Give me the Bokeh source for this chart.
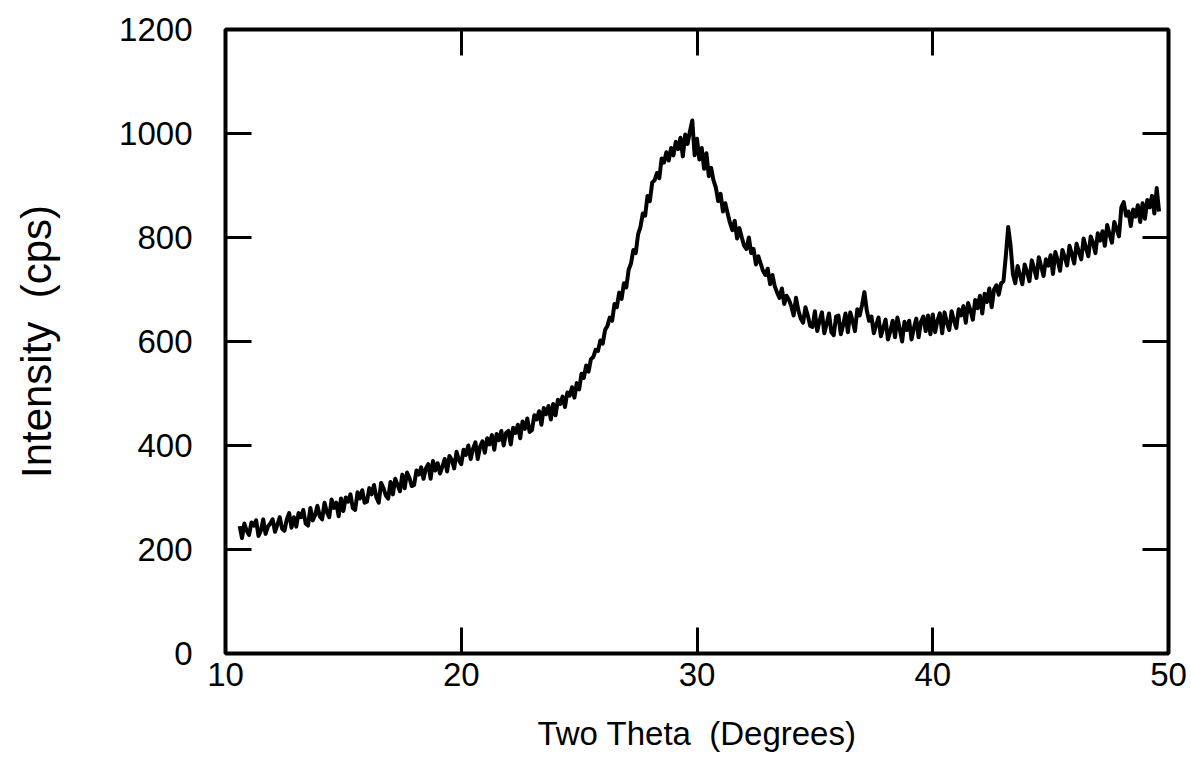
from bokeh.plotting import figure
from bokeh.models import Range1d, LinearAxis, FixedTicker
from bokeh.embed import file_html
from bokeh.resources import INLINE

# Two-theta positions (degrees), 0.1 step
two_theta_start = 10.6
two_theta_step = 0.1

# Intensity (cps), one row per degree
intensity = [
    245, 222, 250, 236,                                   # 10.6-10.9
    228, 252, 246, 256, 226, 236, 258, 230, 244, 250,     # 11
    258, 234, 248, 262, 240, 236, 258, 270, 242, 262,     # 12
    244, 270, 262, 276, 250, 246, 280, 256, 266, 284,     # 13
    264, 258, 290, 272, 262, 296, 280, 290, 264, 298,     # 14
    274, 300, 292, 306, 280, 276, 310, 298, 314, 290,     # 15
    292, 318, 306, 324, 300, 290, 328, 318, 304, 298,     # 16
    330, 306, 336, 324, 312, 344, 318, 348, 338, 322,     # 17
    324, 352, 344, 358, 336, 356, 364, 336, 370, 352,     # 18
    366, 346, 360, 374, 350, 380, 372, 356, 388, 372,     # 19
    364, 392, 382, 400, 374, 394, 406, 374, 398, 408,     # 20
    386, 414, 402, 420, 392, 422, 410, 428, 400, 424,     # 21
    428, 402, 434, 424, 440, 414, 446, 432, 452, 426,     # 22
    430, 458, 450, 466, 440, 472, 460, 476, 450, 480,     # 23
    458, 488, 480, 494, 474, 502, 496, 512, 492, 520,     # 24
    508, 538, 530, 554, 542, 566, 570, 584, 582, 602,     # 25
    596, 622, 630, 646, 640, 672, 666, 694, 682, 712,     # 26
    704, 738, 750, 776, 770, 806, 820, 846, 842, 880,     # 27
    870, 906, 910, 924, 914, 952, 944, 964, 948, 972,     # 28
    958, 984, 970, 992, 956, 998, 980, 1004, 1025, 958,   # 29
    990, 950, 972, 932, 962, 918, 934, 910, 896, 870,     # 30
    884, 850, 866, 846, 828, 814, 832, 798, 818, 800,     # 31
    784, 778, 800, 770, 778, 748, 764, 750, 736, 728,     # 32
    740, 710, 728, 706, 694, 684, 702, 672, 688, 680,     # 33
    668, 650, 684, 660, 644, 636, 666, 650, 630, 628,     # 34
    658, 620, 640, 656, 616, 634, 654, 618, 612, 648,     # 35
    650, 614, 632, 654, 618, 656, 640, 620, 662, 650,     # 36
    670, 695, 660, 640, 648, 616, 632, 646, 610, 626,     # 37
    642, 604, 620, 640, 608, 646, 624, 600, 638, 622,     # 38
    640, 604, 626, 644, 608, 638, 648, 620, 650, 614,     # 39
    652, 618, 640, 654, 616, 656, 636, 622, 658, 640,     # 40
    626, 662, 650, 668, 636, 674, 660, 642, 680, 664,     # 41
    688, 654, 692, 676, 702, 666, 700, 708, 690, 712,     # 42
    716, 765, 820, 785, 730, 712, 745, 728, 710, 748,     # 43
    734, 716, 756, 740, 722, 762, 744, 726, 758, 746,     # 44
    766, 730, 772, 756, 736, 776, 762, 746, 784, 768,     # 45
    750, 788, 772, 758, 798, 780, 764, 802, 790, 770,     # 46
    808, 794, 812, 784, 824, 806, 790, 830, 816, 802,     # 47
    858, 868, 842, 850, 822, 854, 840, 862, 830, 866,     # 48
    836, 872, 858, 880, 846, 895, 850,                    # 49
]
two_theta = [round(two_theta_start + i * two_theta_step, 2) for i in range(len(intensity))]

x_ticks = [10, 20, 30, 40, 50]
y_ticks = [0, 200, 400, 600, 800, 1000, 1200]
x_inner_ticks = [20, 30, 40]
y_inner_ticks = [200, 400, 600, 800, 1000]

FONT = "Liberation Sans"

p = figure(width=1191, height=779, output_backend="svg", toolbar_location=None,
           x_range=Range1d(10, 50), y_range=Range1d(0, 1200),
           min_border_left=225, min_border_right=23, min_border_top=29, min_border_bottom=126,
           background_fill_color="white", border_fill_color="white")
p.grid.visible = False
p.outline_line_color = "black"
p.outline_line_width = 4

p.line(two_theta, intensity, line_color="black", line_width=4, line_join="round")

def style(ax):
    ax.axis_line_color = None
    ax.major_tick_in = 26
    ax.major_tick_out = 0
    ax.major_tick_line_width = 3
    ax.major_tick_line_color = "black"
    ax.minor_tick_in = 26
    ax.minor_tick_out = 0
    ax.minor_tick_line_width = 3
    ax.minor_tick_line_color = "black"
    ax.major_label_text_font = FONT
    ax.major_label_text_color = "black"
    ax.major_label_text_font_size = "33px"
    ax.axis_label_text_font = FONT
    ax.axis_label_text_font_style = "normal"
    ax.axis_label_text_color = "black"

xa = p.xaxis[0]
xa.ticker = FixedTicker(ticks=x_ticks, minor_ticks=[])
style(xa)
xa.major_label_standoff = 9
xa.axis_label = "Two Theta \u00a0(Degrees)"
xa.axis_label_text_font_size = "33px"
xa.axis_label_standoff = 26

ya = p.yaxis[0]
ya.ticker = FixedTicker(ticks=y_ticks, minor_ticks=[])
style(ya)
ya.major_label_standoff = 33
ya.axis_label = "Intensity \u00a0(cps)"
ya.axis_label_text_font_size = "42px"
ya.axis_label_standoff = 56

top = LinearAxis(ticker=FixedTicker(ticks=[], minor_ticks=x_inner_ticks))
style(top)
p.add_layout(top, "above")

right = LinearAxis(ticker=FixedTicker(ticks=[], minor_ticks=y_inner_ticks))
style(right)
p.add_layout(right, "right")

open("out.html", "w").write(file_html(p, INLINE))
